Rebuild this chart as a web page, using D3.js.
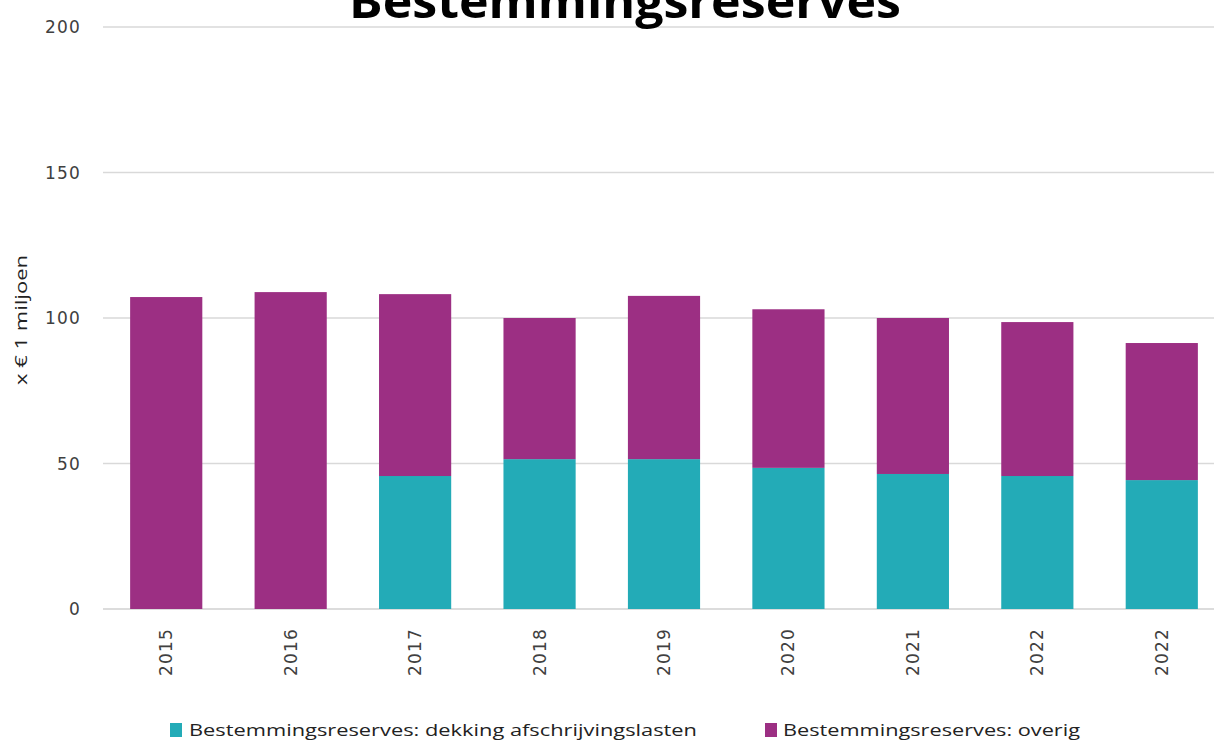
<!DOCTYPE html>
<html>
<head>
<meta charset="utf-8">
<script src="https://cdn.jsdelivr.net/npm/d3@7"></script>
<style>
  body { margin: 0; background: #fff; }
  svg { display: block; }
</style>
</head>
<body>
<div id="chart"></div>
<script>
var years = ["2015", "2016", "2017", "2018", "2019", "2020", "2021", "2022", "2022"];
var dekking = [0, 0, 45.7, 51.5, 51.5, 48.5, 46.4, 45.7, 44.3];
var totaal = [107.2, 108.9, 108.2, 100.0, 107.6, 103.0, 100.0, 98.6, 91.4];
var overig = totaal.map(function(t, i){ return t - dekking[i]; });
var yTicks = [0, 50, 100, 150, 200];
var seriesNames = ["Bestemmingsreserves: dekking afschrijvingslasten", "Bestemmingsreserves: overig"];
var colors = ["#23abb7", "#9c2f83"];

var width = 1214, height = 742;
var svg = d3.select("#chart").append("svg")
    .attr("width", width)
    .attr("height", height);

var x = d3.scaleBand()
    .domain(d3.range(years.length))
    .range([104, 1224])
    .paddingInner(0.42)
    .paddingOuter(0.21);

var y = d3.scaleLinear().domain([0, 200]).range([609, 27]);

// gridlines
svg.append("g").selectAll("line")
    .data(yTicks)
    .enter().append("line")
    .attr("x1", 103)
    .attr("x2", width)
    .attr("y1", function(d){ return y(d); })
    .attr("y2", function(d){ return y(d); })
    .style("stroke", function(d){ return d === 0 ? "#d0d0d0" : "#d9d9d9"; })
    .style("stroke-width", 1.5);

// y tick labels
svg.append("g").selectAll("text")
    .data(yTicks)
    .enter().append("text")
    .attr("x", 81)
    .attr("y", function(d){ return y(d) + 6; })
    .attr("text-anchor", "end")
    .style("font-family", "DejaVu Sans, Verdana, sans-serif")
    .style("font-size", "17px")
    .style("letter-spacing", "1.2px")
    .style("fill", "#404040")
    .text(function(d){ return d; });

// y axis title
svg.append("text")
    .attr("transform", "translate(27, 320) rotate(-90)")
    .attr("text-anchor", "middle")
    .attr("textLength", 130)
    .attr("lengthAdjust", "spacingAndGlyphs")
    .style("font-family", "Open Sans, sans-serif")
    .style("font-size", "17px")
    .style("fill", "#222")
    .text("x € 1 miljoen");

// stacked bars
var stackData = years.map(function(yr, i){ return { i: i, dekking: dekking[i], overig: overig[i] }; });
var stack = d3.stack().keys(["dekking", "overig"])(stackData);

svg.append("g").selectAll("g")
    .data(stack)
    .enter().append("g")
    .attr("fill", function(d, k){ return colors[k]; })
    .selectAll("rect")
    .data(function(d){ return d.filter(function(p){ return p[1] - p[0] > 0; }); })
    .enter().append("rect")
    .attr("x", function(d){ return x(d.data.i); })
    .attr("width", x.bandwidth())
    .attr("y", function(d){ return y(d[1]); })
    .attr("height", function(d){ return y(d[0]) - y(d[1]); });

// x labels
svg.append("g").selectAll("text")
    .data(years)
    .enter().append("text")
    .attr("transform", function(d, i){
        return "translate(" + (x(i) + x.bandwidth() / 2 + 6) + ", 628) rotate(-90)";
    })
    .attr("text-anchor", "end")
    .style("font-family", "DejaVu Sans, Verdana, sans-serif")
    .style("font-size", "17px")
    .style("letter-spacing", "1.2px")
    .style("fill", "#404040")
    .text(function(d){ return d; });

// title
svg.append("text")
    .attr("x", 625)
    .attr("y", 18)
    .attr("text-anchor", "middle")
    .attr("textLength", 552)
    .attr("lengthAdjust", "spacingAndGlyphs")
    .style("font-family", "Open Sans, sans-serif")
    .style("font-weight", "bold")
    .style("font-size", "46px")
    .style("fill", "#000")
    .text("Bestemmingsreserves");

// legend
var legendPos = [{ sq: 170, tx: 189, len: 508 }, { sq: 765, tx: 783, len: 297 }];
var legend = svg.append("g").selectAll("g")
    .data(seriesNames)
    .enter().append("g");
legend.append("rect")
    .attr("x", function(d, i){ return legendPos[i].sq; })
    .attr("y", 723)
    .attr("width", 12)
    .attr("height", 14)
    .attr("fill", function(d, i){ return colors[i]; });
legend.append("text")
    .attr("x", function(d, i){ return legendPos[i].tx; })
    .attr("y", 736)
    .attr("textLength", function(d, i){ return legendPos[i].len; })
    .attr("lengthAdjust", "spacingAndGlyphs")
    .style("font-family", "Open Sans, sans-serif")
    .style("font-size", "17px")
    .style("fill", "#222")
    .text(function(d){ return d; });
</script>
</body>
</html>
